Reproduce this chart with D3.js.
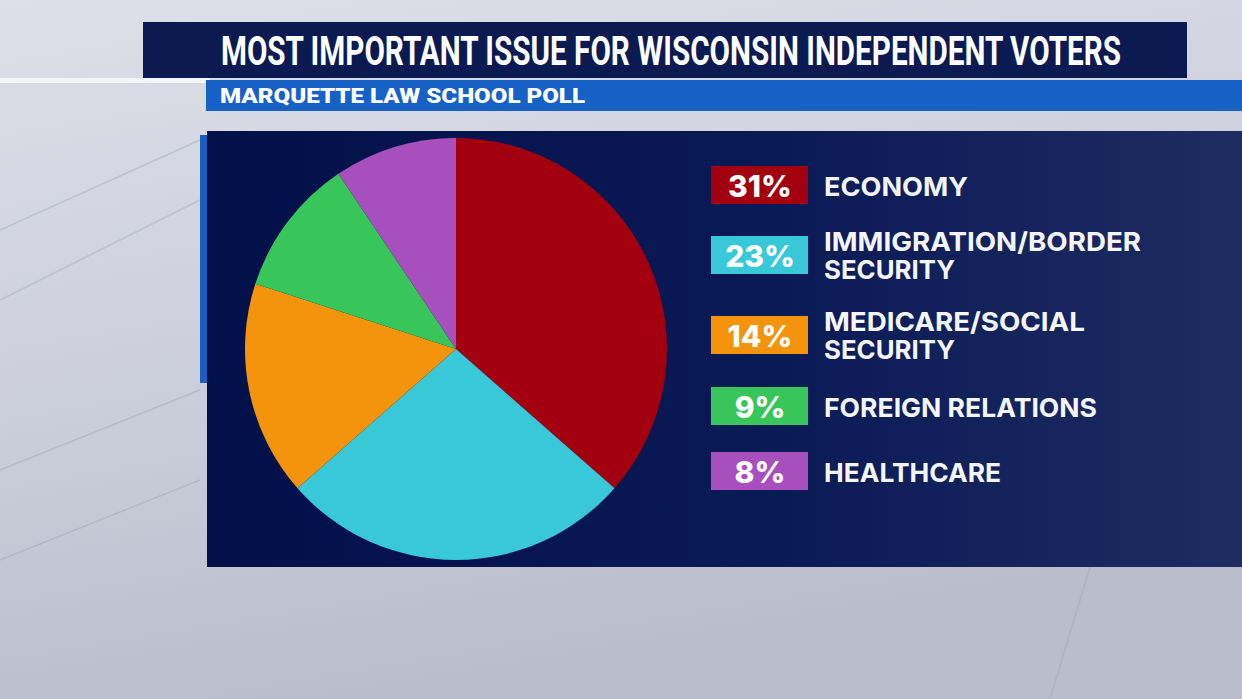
<!DOCTYPE html>
<meta charset="utf-8">
<style>
    body { margin: 0; overflow: hidden; }
    .title { font-family: 'Liberation Sans Narrow', 'Roboto', sans-serif; font-weight: bold; fill: white; }
    .sub { font-family: 'Roboto', 'Liberation Sans', sans-serif; font-weight: 900; fill: white; }
    .lbl { font-family: 'Inter', 'Roboto', sans-serif; font-weight: 700; fill: #f4f6fb; }
    .pct { font-family: 'Inter', 'Roboto', sans-serif; font-weight: 800; fill: white; }
</style>
<body>
<script src="https://cdn.jsdelivr.net/npm/d3@7"></script>
<script>
    var categories = ["ECONOMY", "IMMIGRATION/BORDER|SECURITY", "MEDICARE/SOCIAL|SECURITY", "FOREIGN RELATIONS", "HEALTHCARE"];
    var values = [31, 23, 14, 9, 8];
    var colors = ["#a3000f", "#38c8d8", "#f4940c", "#38c65b", "#a64fbd"];

    var width = 1242, height = 699;

    var svg = d3.select("body").append("svg")
        .attr("width", width)
        .attr("height", height);

    var defs = svg.append("defs");
    var bg = defs.append("linearGradient").attr("id", "bg")
        .attr("x1", 0).attr("y1", 0).attr("x2", 0.3).attr("y2", 1);
    bg.append("stop").attr("offset", 0).attr("stop-color", "#dde0e8");
    bg.append("stop").attr("offset", 0.5).attr("stop-color", "#cdd0dc");
    bg.append("stop").attr("offset", 1).attr("stop-color", "#b9bdcc");

    var panel = defs.append("linearGradient").attr("id", "panel")
        .attr("x1", 0).attr("y1", 0).attr("x2", 1).attr("y2", 0);
    panel.append("stop").attr("offset", 0).attr("stop-color", "#021049");
    panel.append("stop").attr("offset", 0.55).attr("stop-color", "#0a1a55");
    panel.append("stop").attr("offset", 1).attr("stop-color", "#1e2c62");

    // backdrop
    svg.append("rect").attr("width", width).attr("height", height).attr("fill", "url(#bg)");
    svg.append("rect").attr("x", 0).attr("y", 78).attr("width", 210).attr("height", 5).attr("fill", "#f4f5f8");
    var streaks = [[0, 230, 200, 140], [0, 300, 200, 200], [0, 470, 200, 390], [0, 560, 200, 480], [1050, 699, 1090, 567]];
    svg.selectAll(".streak").data(streaks).enter().append("line")
        .attr("x1", function(d) { return d[0]; })
        .attr("y1", function(d) { return d[1]; })
        .attr("x2", function(d) { return d[2]; })
        .attr("y2", function(d) { return d[3]; })
        .attr("stroke", "#9ea3b5").attr("stroke-width", 1.5).attr("opacity", 0.4);

    // header bars
    svg.append("rect").attr("x", 143).attr("y", 22).attr("width", 1044).attr("height", 56).attr("fill", "#0b1a50");
    var title = svg.append("text").attr("class", "title")
        .attr("transform", "translate(671,65) scale(1,1.35)")
        .attr("text-anchor", "middle")
        .attr("font-size", 36)
        .text("MOST IMPORTANT ISSUE FOR WISCONSIN INDEPENDENT VOTERS");
    // fit the title to the reference width without stretching glyphs
    var natural = title.node().getComputedTextLength();
    if (natural > 0) title.attr("font-size", Math.min(40, 36 * 900 / natural));

    svg.append("rect").attr("x", 206).attr("y", 80).attr("width", 1036).attr("height", 31).attr("fill", "#1661c6");
    svg.append("text").attr("class", "sub")
        .attr("x", 220).attr("y", 103)
        .attr("font-size", 20)
        .attr("textLength", 365).attr("lengthAdjust", "spacingAndGlyphs")
        .text("MARQUETTE LAW SCHOOL POLL");

    // main panel
    svg.append("rect").attr("x", 200).attr("y", 135).attr("width", 8).attr("height", 248).attr("fill", "#1a5cc0");
    svg.append("rect").attr("x", 207).attr("y", 131).attr("width", 1035).attr("height", 436).attr("fill", "url(#panel)");

    // pie
    var data = categories.map(function(c, i) { return { name: c, value: values[i], color: colors[i] }; });
    var pie = d3.pie().sort(null).value(function(d) { return d.value; });
    var arc = d3.arc().innerRadius(0).outerRadius(211);

    svg.append("g")
        .attr("transform", "translate(456,349)")
        .selectAll("path")
        .data(pie(data))
        .enter().append("path")
        .attr("d", arc)
        .attr("fill", function(d) { return d.data.color; });

    // legend
    var boxTop = [166, 236, 316, 387, 452];
    var labelWidths = [[144], [317, 131], [261, 131], [273], [177]];
    var y = d3.scaleOrdinal().domain(categories).range(boxTop);

    var item = svg.selectAll(".item")
        .data(data)
        .enter().append("g")
        .attr("class", "item")
        .attr("transform", function(d) { return "translate(0," + y(d.name) + ")"; });

    item.append("rect")
        .attr("x", 711).attr("width", 97).attr("height", 38)
        .attr("fill", function(d) { return d.color; });

    item.append("text").attr("class", "pct")
        .attr("x", 760).attr("y", 31)
        .attr("text-anchor", "middle")
        .attr("font-size", 30)
        .text(function(d) { return d.value + "%"; });

    item.each(function(d, i) {
        var lines = d.name.split("|");
        var g = d3.select(this);
        var top = lines.length === 1 ? 30 : 15;
        lines.forEach(function(l, j) {
            g.append("text").attr("class", "lbl")
                .attr("x", 824).attr("y", top + j * 28)
                .attr("font-size", 26)
                .attr("textLength", labelWidths[i][j]).attr("lengthAdjust", "spacingAndGlyphs")
                .text(l);
        });
    });
</script>
</body>
